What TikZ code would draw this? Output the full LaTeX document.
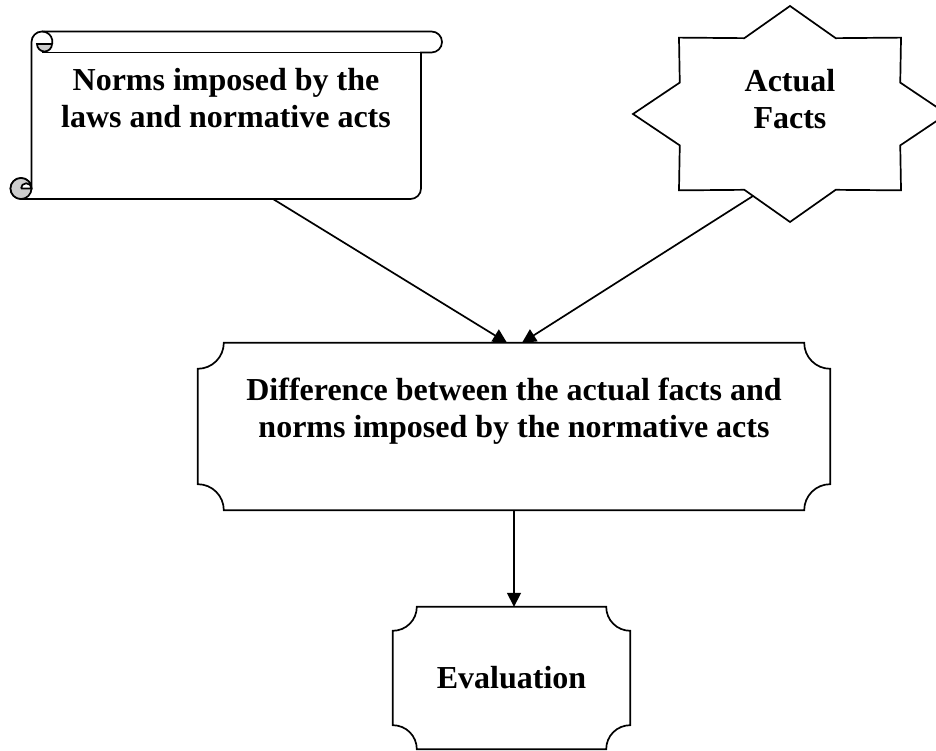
\documentclass[tikz,border=0pt]{standalone}
\usepackage{fontspec}
\setmainfont{Liberation Serif}
\usetikzlibrary{arrows.meta}

\definecolor{curlgray}{RGB}{205,205,205}

\tikzset{
  outline/.style={line width=1.7pt, line join=miter},
  link/.style={line width=1.7pt, -{Triangle[length=14pt,width=14pt]}},
  caption/.style={font=\bfseries\fontsize{32}{37}\selectfont, align=center, inner sep=0pt},
  plaque/.style={inner sep=0pt, minimum width=#1},
}

% plaque outline round a node: name, corner radius
\newcommand{\plaqueedge}[2]{%
  \draw[outline] ([xshift=#2]#1.north west) -- ([xshift=-#2]#1.north east)
    arc[start angle=180,end angle=270,radius=#2] -- ([yshift=#2]#1.south east)
    arc[start angle=90,end angle=180,radius=#2] -- ([xshift=#2]#1.south west)
    arc[start angle=0,end angle=90,radius=#2] -- ([yshift=-#2]#1.north west)
    arc[start angle=270,end angle=360,radius=#2] -- cycle;}

\begin{document}
\begin{tikzpicture}[x=1pt, y=1pt]
\useasboundingbox (0,0) rectangle (936,751);

% Scroll
\draw[outline, fill=white] (31.5,562.5) -- (31.5,709) arc[start angle=180,end angle=90,radius=10.5]
  -- (431.5,719.5) arc[start angle=90,end angle=-90,radius=10.5]
  -- (421,698.5) -- (421,562.5) arc[start angle=0,end angle=-90,radius=10.5]
  -- (21,552) arc[start angle=-90,end angle=-360,radius=10.5];
\draw[outline] (42,698.5) -- (421,698.5);
\filldraw[outline, fill=curlgray] (37,707) arc[start angle=180,end angle=360,radius=7.5] -- cycle;
\draw[outline] (42,719.5) arc[start angle=90,end angle=-10,radius=10.5];
\filldraw[outline, fill=curlgray] (21,562.5) circle[radius=10.5];
\filldraw[outline, fill=white] (21,562.5) -- (31.5,562.5) arc[start angle=0,end angle=180,radius=5.25];
\node[caption] (norms) at (226,653) {Norms imposed by the\\laws and normative acts};
\coordinate (norms foot) at (273,552);

% Star
\begin{scope}[shift={(790,637)}, x=157pt, y=108pt]
\draw[outline] (0:1) \foreach \a in {0,45,...,270} {-- (\a+22.5:0.76) -- (\a+45:1)} -- (337.5:0.76) -- cycle;
\end{scope}
\node[caption] (facts) at (790,652) {Actual\\Facts};
\coordinate (facts foot) at (753,555);

% Plaques
\node[plaque=632pt, minimum height=167pt] (diff) at (514,324.5) {};
\plaqueedge{diff}{26pt}
\node[caption] (diff text) at (514,340) {Difference between the actual facts and\\norms imposed by the normative acts};

\node[plaque=237pt, minimum height=142pt, caption] (eval) at (511.5,73) {Evaluation};
\plaqueedge{eval}{24pt}

% Arrows
\draw[link] (norms foot) -- ([xshift=-7pt]diff.north);
\draw[link] (facts foot) -- ([xshift=8pt]diff.north);
\draw[link] (diff.south) -- (diff.south |- eval.north);

\end{tikzpicture}
\end{document}
